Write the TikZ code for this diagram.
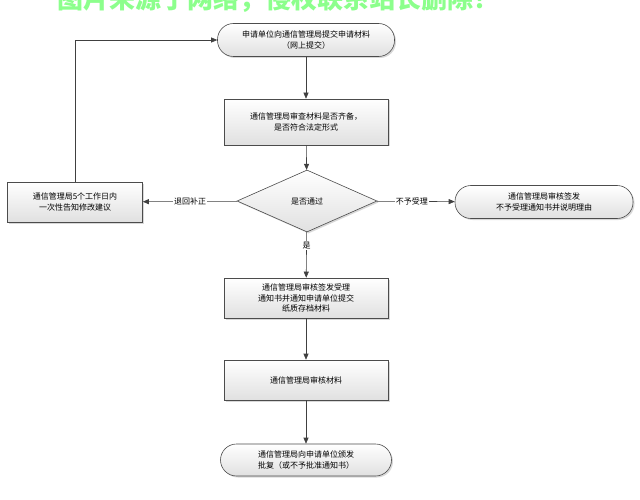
\documentclass[tikz,border=0pt]{standalone}
\usepackage{fontspec}
\setmainfont{Noto Sans CJK SC}
\usetikzlibrary{shapes.geometric,shadows,arrows.meta}
\begin{document}
\begin{tikzpicture}[x=1pt,y=-1pt,
  base/.style={draw=black!70,line width=0.6pt,top color=white,bottom color=black!12,
    drop shadow={shadow xshift=1.5pt,shadow yshift=-1.5pt,opacity=0.3},
    font=\fontsize{8}{10.5}\selectfont,align=center,inner sep=1pt},
  box/.style={base,rectangle,minimum width=164pt,minimum height=42pt},
  term/.style={base,rounded corners=16pt,minimum height=33pt},
  dia/.style={base,diamond,aspect=2.25,minimum width=140pt,minimum height=62pt,inner sep=0pt},
  arr/.style={draw=black!75,line width=0.6pt,-{Triangle[length=6pt,width=5pt]}},
  lab/.style={fill=white,font=\fontsize{8}{9}\selectfont,inner sep=1pt}]
\clip (0,0) rectangle (640,500);
\fill[white] (0,0) rectangle (640,500);
\node[text=green!45!white,font=\bfseries\fontsize{26}{26}\selectfont,anchor=center] (wm) at (278,-1) {图片来源于网络，侵权联系站长删除！};
\node[term,minimum width=177pt] (a) at (306,40) {申请单位向通信管理局提交申请材料\\（网上提交）};
\node[box,minimum height=46pt] (b) at (306,122) {通信管理局审查材料是否齐备，\\是否符合法定形式};
\node[dia] (c) at (307,201) {是否通过};
\node[box,minimum width=135pt,minimum height=40pt] (l) at (75,202) {通信管理局5个工作日内\\一次性告知修改建议};
\node[term,minimum width=178pt] (r) at (544,202) {通信管理局审核签发\\不予受理通知书并说明理由};
\node[box,minimum height=40pt] (d) at (306,298) {通信管理局审核签发受理\\通知书并通知申请单位提交\\纸质存档材料};
\node[box,minimum height=40pt] (e) at (306,380) {通信管理局审核材料};
\node[term,minimum width=171pt,minimum height=32pt] (f) at (306,460) {通信管理局向申请单位颁发\\批复（或不予批准通知书）};
\draw[arr] (a) -- (b);
\draw[arr] (b) -- (c);
\draw[arr] (c) -- node[lab]{退回补正} (l);
\draw[arr] (c) -- node[lab,pos=0.45]{不予受理} (r);
\draw[arr] (c) -- node[lab,pos=0.3]{是} (d);
\draw[arr] (d) -- (e);
\draw[arr] (e) -- (f);
\draw[arr] (l.north) |- (a.west);
\end{tikzpicture}
\end{document}
